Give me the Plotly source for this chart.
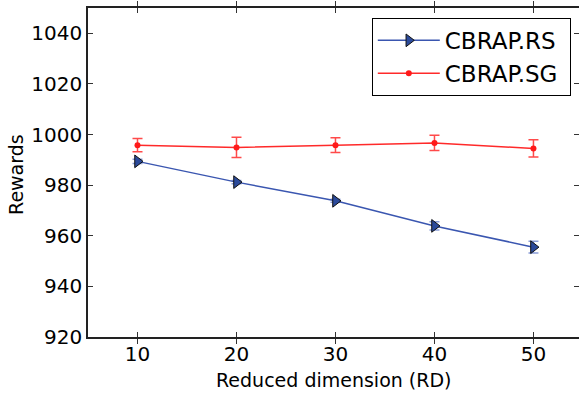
import plotly.graph_objects as go

rd = [10, 20, 30, 40, 50]
rs_values = [989.4, 981.2, 973.8, 963.9, 955.5]
rs_err = [0.8, 0.6, 0.6, 1.6, 2.3]
sg_values = [995.8, 994.9, 995.8, 996.7, 994.5]
sg_err = [2.6, 4.0, 2.9, 3.0, 3.4]
y_ticks = [920, 940, 960, 980, 1000, 1020, 1040]

FONT = "DejaVu Sans"
PAD = "\u00a0"
fig = go.Figure()

fig.add_trace(go.Scatter(
    x=rd, y=rs_values, name="CBRAP.RS" + PAD, mode="lines+markers",
    legendgroup="rs",
    line=dict(color="#3a56b0", width=1.5),
    marker=dict(symbol="triangle-right", size=11, color="#2b4a9a",
                line=dict(color="#111111", width=1)),
    error_y=dict(type="data", array=rs_err, visible=True,
                 color="#8c9fd8", thickness=1.5, width=5),
))
fig.add_trace(go.Scatter(
    x=rd, y=sg_values, name="CBRAP.SG" + PAD, mode="lines+markers",
    legendgroup="sg",
    line=dict(color="#ff2a2a", width=1.5),
    marker=dict(symbol="circle", size=6, color="#ff1a1a",
                line=dict(color="#ff1a1a", width=0)),
    error_y=dict(type="data", array=sg_err, visible=True,
                 color="#ff4a4a", thickness=1.5, width=5),
))
# invisible trace to draw right-side inner ticks
fig.add_trace(go.Scatter(x=rd, y=sg_values, yaxis="y2", mode="none",
                         showlegend=False, hoverinfo="skip"))

fig.update_layout(
    width=579, height=395,
    margin=dict(l=88, r=0, t=8, b=58),
    paper_bgcolor="white", plot_bgcolor="white",
    font=dict(family=FONT, size=20, color="black"),
    showlegend=True,
    legend=dict(
        x=0.578, y=0.97, xanchor="left", yanchor="top",
        bgcolor="white", bordercolor="black", borderwidth=1,
        font=dict(family=FONT, size=23, color="black"),
        tracegroupgap=0, itemwidth=62,
    ),
    xaxis=dict(
        range=[5, 54.6], tickvals=rd, ticks="inside", ticklen=5,
        tickcolor="#333333", showline=True, linecolor="#222222",
        linewidth=1.5, mirror="allticks", showgrid=False, zeroline=False,
        automargin=False, ticklabelstandoff=-2,
        tickfont=dict(family=FONT, size=20),
    ),
    yaxis=dict(
        range=[920, 1050], tickvals=y_ticks, ticks="inside", ticklen=5,
        tickcolor="#333333", showline=True, linecolor="#222222",
        linewidth=1.5, showgrid=False, zeroline=False,
        automargin=False,
        tickfont=dict(family=FONT, size=20),
    ),
    yaxis2=dict(
        range=[920, 1050], tickvals=y_ticks, overlaying="y", side="right",
        ticks="inside", ticklen=5, tickcolor="#333333", showticklabels=False,
        showline=False, showgrid=False, zeroline=False, automargin=False,
    ),
    annotations=[
        dict(text="Reduced dimension (RD)", xref="paper", yref="paper",
             x=0.501, y=-0.13, xanchor="center", yanchor="middle",
             showarrow=False, font=dict(family=FONT, size=19, color="black")),
        dict(text="Rewards", xref="paper", yref="paper",
             x=-0.147, y=0.495, xanchor="center", yanchor="middle",
             textangle=-90, showarrow=False,
             font=dict(family=FONT, size=19, color="black")),
    ],
)

fig.write_html(
    "out.html",
    config={"displayModeBar": False},
    post_script="document.body.style.margin='0';document.body.style.overflow='hidden';",
)
